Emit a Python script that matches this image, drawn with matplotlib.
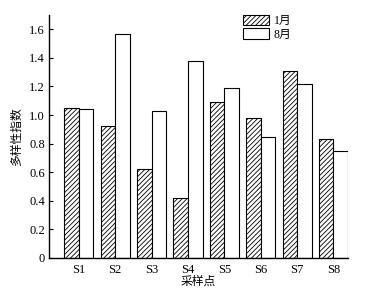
import matplotlib
matplotlib.use("Agg")
import matplotlib.pyplot as plt
import numpy as np

plt.rcParams['font.family'] = ['Liberation Serif', 'Noto Sans CJK SC']
plt.rcParams['hatch.linewidth'] = 0.6

categories = ['S1', 'S2', 'S3', 'S4', 'S5', 'S6', 'S7', 'S8']
jan = [1.05, 0.92, 0.62, 0.42, 1.09, 0.98, 1.31, 0.83]
aug = [1.04, 1.57, 1.03, 1.38, 1.19, 0.85, 1.22, 0.75]
yticks = [0, 0.2, 0.4, 0.6, 0.8, 1.0, 1.2, 1.4, 1.6]
ytick_labels = ['0', '0.2', '0.4', '0.6', '0.8', '1.0', '1.2', '1.4', '1.6']

fig = plt.figure(figsize=(3.65, 2.97), dpi=100)
ax = fig.add_axes([49/365, 1 - 258/297, (348-49)/365, (258-15)/297])

x = np.arange(len(categories))
w = 0.4
ax.bar(x - w/2, jan, w, facecolor='white', edgecolor='black', hatch='///////', linewidth=0.8, label='1月')
ax.bar(x + w/2, aug, w, facecolor='white', edgecolor='black', linewidth=0.8, label='8月')

ax.set_xlim(-0.82, 7.4)
ax.set_ylim(0, 1.7)
ax.set_yticks(yticks)
ax.set_yticklabels(ytick_labels)
ax.set_xticks(x)
ax.set_xticklabels(categories)
ax.tick_params(axis='y', direction='in', length=3, width=0.8, labelsize=9, pad=3)
ax.tick_params(axis='x', length=0, labelsize=9, pad=4)
for s in ['top', 'right']:
    ax.spines[s].set_visible(False)
for s in ['left', 'bottom']:
    ax.spines[s].set_linewidth(1.0)

ax.set_ylabel('多样性指数', fontsize=8.5, labelpad=4)
ax.set_xlabel('采样点', fontsize=8.5, labelpad=0)

leg = ax.legend(loc='upper left', bbox_to_anchor=(0.63, 1.025), frameon=False, fontsize=8.5,
                handlelength=2.2, handleheight=1.0, handletextpad=0.4, labelspacing=0.1, borderpad=0)

fig.savefig('out.png', dpi=100)
